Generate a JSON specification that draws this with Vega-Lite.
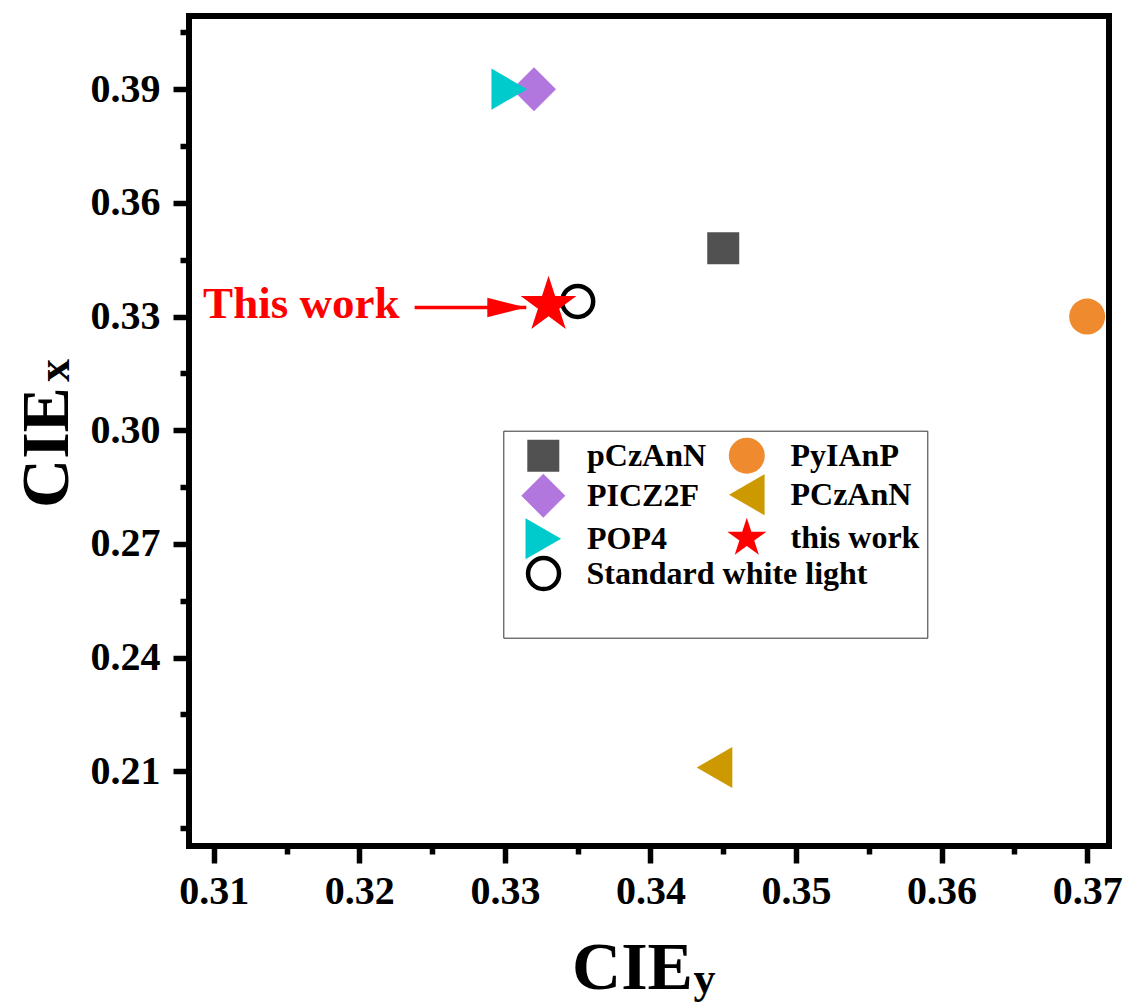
{
  "$schema": "https://vega.github.io/schema/vega-lite/v6.json",
  "width": 920,
  "height": 830,
  "autosize": {"type": "none"},
  "padding": {"left": 189, "top": 16, "right": 16, "bottom": 159},
  "background": "white",
  "config": {
    "view": {"stroke": "#000000", "strokeWidth": 6},
    "axis": {
      "grid": false, "domain": false,
      "labelFont": "Liberation Serif", "labelFontWeight": "bold", "labelFontSize": 40, "labelColor": "#000000",
      "tickColor": "#000000", "tickWidth": 5.5,
      "titleFont": "Liberation Serif", "titleFontWeight": "bold", "titleColor": "#000000",
      "labelFlush": false, "labelOverlap": false, "labelBound": false
    }
  },
  "data": {
    "values": [
      {"name": "pCzAnN", "CIEy": 0.345, "CIEx": 0.348},
      {"name": "PyIAnP", "CIEy": 0.370, "CIEx": 0.330},
      {"name": "PICZ2F", "CIEy": 0.332, "CIEx": 0.390},
      {"name": "POP4", "CIEy": 0.3303, "CIEx": 0.390},
      {"name": "PCzAnN", "CIEy": 0.3444, "CIEx": 0.211},
      {"name": "this work", "CIEy": 0.333, "CIEx": 0.333},
      {"name": "Standard white light", "CIEy": 0.335, "CIEx": 0.334}
    ]
  },
  "layer": [
    {
      "transform": [{"filter": "datum.name != 'Standard white light'"}],
      "mark": {"type": "point", "filled": true, "opacity": 1, "strokeWidth": 0},
      "encoding": {
        "x": {
          "field": "CIEy", "type": "quantitative",
          "scale": {"domain": [0.3083, 0.3715], "nice": false, "zero": false},
          "axis": {
            "orient": "bottom", "values": [0.31, 0.32, 0.33, 0.34, 0.35, 0.36, 0.37], "format": ".2f",
            "tickSize": 17, "labelPadding": 8,
            "title": "CIE", "titleFontSize": 68, "titleX": 443, "titleY": 142,
            "titleAlign": "center", "titleBaseline": "alphabetic", "titleAngle": 0
          }
        },
        "y": {
          "field": "CIEx", "type": "quantitative",
          "scale": {"domain": [0.1903, 0.4093], "nice": false, "zero": false},
          "axis": {
            "orient": "left", "values": [0.21, 0.24, 0.27, 0.30, 0.33, 0.36, 0.39], "format": ".2f",
            "tickSize": 16, "labelPadding": 13,
            "title": "CIE", "titleFontSize": 68, "titleAngle": 270, "titleX": -122, "titleY": 431,
            "titleAlign": "center", "titleBaseline": "alphabetic"
          }
        },
        "fill": {
          "field": "name", "type": "nominal",
          "scale": {
            "domain": ["pCzAnN", "PICZ2F", "POP4", "PyIAnP", "PCzAnN", "this work"],
            "range": ["#515151", "#B177DE", "#00CBCC", "#F08A2E", "#CC9900", "#FF0000"]
          },
          "legend": {
            "orient": "none", "legendX": 314.3, "legendY": 414.7,
            "columns": 2, "title": " ", "titleOrient": "bottom", "titleFontSize": 10, "titlePadding": 61,
            "padding": 7, "strokeColor": "#333333",
            "labelFont": "Liberation Serif", "labelFontSize": 32, "labelFontWeight": "bold", "labelColor": "#000000",
            "labelOffset": 21.7, "symbolOffset": 11, "columnPadding": 7.5, "rowPadding": -4,
            "symbolStrokeWidth": 0, "symbolOpacity": 1, "labelLimit": 400
          }
        },
        "shape": {
          "field": "name", "type": "nominal",
          "scale": {
            "domain": ["pCzAnN", "PICZ2F", "POP4", "PyIAnP", "PCzAnN", "this work"],
            "range": ["square", "diamond", "triangle-right", "circle", "triangle-left",
              "M0,-1L0.2245,-0.309L0.951,-0.309L0.363,0.118L0.588,0.809L0,0.382L-0.588,0.809L-0.363,0.118L-0.951,-0.309L-0.2245,-0.309Z"]
          }
        },
        "size": {
          "field": "name", "type": "nominal",
          "scale": {
            "type": "ordinal",
            "domain": ["pCzAnN", "PICZ2F", "POP4", "PyIAnP", "PCzAnN", "this work"],
            "range": [1024, 1936, 1690, 1296, 1690, 1681]
          }
        }
      }
    },
    {
      "transform": [{"filter": "datum.name == 'Standard white light'"}],
      "mark": {"type": "point", "filled": false, "shape": "circle", "size": 961, "strokeWidth": 4.5, "opacity": 1},
      "encoding": {
        "x": {
          "field": "CIEy", "type": "quantitative",
          "axis": {
            "orient": "bottom", "values": [0.315, 0.325, 0.335, 0.345, 0.355, 0.365],
            "labels": false, "tickSize": 8,
            "title": "y", "titleFontSize": 44, "titleX": 515, "titleY": 146,
            "titleAlign": "center", "titleBaseline": "alphabetic", "titleAngle": 0
          }
        },
        "y": {
          "field": "CIEx", "type": "quantitative",
          "axis": {
            "orient": "left", "values": [0.195, 0.225, 0.255, 0.285, 0.315, 0.345, 0.375, 0.405],
            "labels": false, "tickSize": 9,
            "title": "x", "titleFontSize": 46, "titleAngle": 270, "titleX": -121, "titleY": 354,
            "titleAlign": "center", "titleBaseline": "alphabetic"
          }
        },
        "stroke": {
          "field": "name", "type": "nominal",
          "scale": {"domain": ["Standard white light"], "range": ["#000000"]},
          "legend": {
            "orient": "none", "legendX": 336.55, "legendY": 539.55, "title": null, "padding": 0,
            "labelFont": "Liberation Serif", "labelFontSize": 32, "labelFontWeight": "bold", "labelColor": "#000000",
            "labelOffset": 25, "labelLimit": 400, "symbolStrokeWidth": 4.5, "symbolSize": 961, "symbolType": "circle",
            "symbolFillColor": "transparent", "strokeColor": null
          }
        }
      }
    },
    {
      "transform": [{"filter": "datum.name == 'this work'"}],
      "mark": {
        "type": "point", "filled": true, "opacity": 1, "strokeWidth": 0, "fill": "#FF0000", "size": 3434,
        "shape": "M0,-1L0.2245,-0.309L0.951,-0.309L0.363,0.118L0.588,0.809L0,0.382L-0.588,0.809L-0.363,0.118L-0.951,-0.309L-0.2245,-0.309Z"
      },
      "encoding": {
        "x": {"field": "CIEy", "type": "quantitative", "axis": null},
        "y": {"field": "CIEx", "type": "quantitative", "axis": null}
      }
    },
    {
      "data": {"values": [{"label": "This work", "CIEy": 0.30927, "CIEx": 0.3296}]},
      "mark": {"type": "text", "font": "Liberation Serif", "fontWeight": "bold", "fontSize": 45, "fill": "#FF0000", "align": "left", "baseline": "alphabetic"},
      "encoding": {
        "x": {"field": "CIEy", "type": "quantitative", "axis": null},
        "y": {"field": "CIEx", "type": "quantitative", "axis": null},
        "text": {"field": "label", "type": "nominal"}
      }
    },
    {
      "data": {"values": [{"CIEy": 0.3238, "tip": 0.33147, "CIEx": 0.3324}]},
      "layer": [
        {
          "mark": {"type": "rule", "color": "#FF0000", "strokeWidth": 3.5},
          "encoding": {
            "x": {"field": "CIEy", "type": "quantitative", "axis": null},
            "x2": {"field": "tip"},
            "y": {"field": "CIEx", "type": "quantitative", "axis": null}
          }
        },
        {
          "mark": {"type": "point", "filled": true, "opacity": 1, "strokeWidth": 0, "fill": "#FF0000", "size": 1521, "shape": "M0,0L-2,-0.5L-2,0.5Z"},
          "encoding": {
            "x": {"field": "tip", "type": "quantitative", "axis": null},
            "y": {"field": "CIEx", "type": "quantitative", "axis": null}
          }
        }
      ]
    }
  ],
  "resolve": {"axis": {"x": "independent", "y": "independent"}}
}
